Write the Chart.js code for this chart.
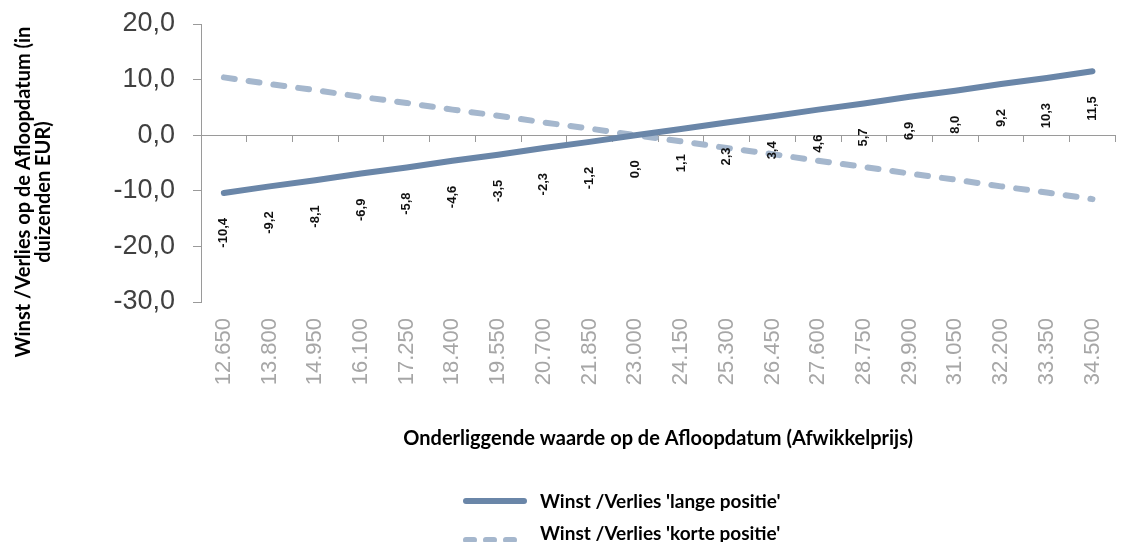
<!DOCTYPE html>
<html>
<head>
<meta charset="utf-8">
<title>Winst / Verlies</title>
<script src="https://cdn.jsdelivr.net/npm/chart.js@4.4.0/dist/chart.umd.min.js"></script>
<style>
html, body { margin: 0; padding: 0; background: #fff; overflow: hidden; }
#wrap { width: 1135px; height: 542px; }
</style>
</head>
<body>
<div id="wrap"><canvas id="payoffChart"></canvas></div>
<script>
// afwikkelprijzen (x-as)
var prices = ['12.650', '13.800', '14.950', '16.100', '17.250', '18.400', '19.550', '20.700', '21.850', '23.000',
              '24.150', '25.300', '26.450', '27.600', '28.750', '29.900', '31.050', '32.200', '33.350', '34.500'];
// winst/verlies in duizenden EUR
var longPos  = [-10.4, -9.2, -8.1, -6.9, -5.8, -4.6, -3.5, -2.3, -1.2, 0.0, 1.1, 2.3, 3.4, 4.6, 5.7, 6.9, 8.0, 9.2, 10.3, 11.5];
var shortPos = [10.4, 9.2, 8.1, 6.9, 5.8, 4.6, 3.5, 2.3, 1.2, 0.0, -1.1, -2.3, -3.4, -4.6, -5.7, -6.9, -8.0, -9.2, -10.3, -11.5];
var seriesNames = ["Winst /Verlies 'lange positie'", "Winst /Verlies 'korte positie'"];
var yTicks = [-30, -20, -10, 0, 10, 20];
var yTitle = ['Winst /Verlies op de Afloopdatum (in', 'duizenden EUR)'];
var xTitle = 'Onderliggende waarde op de Afloopdatum (Afwikkelprijs)';

var titleFont = 'bold 20px Lato, "Open Sans", sans-serif';
var legendFont = 'bold 19px Lato, "Open Sans", sans-serif';

function nl(v){
	return v.toFixed(1).replace('.', ',');
}

// waarden van de lange positie, verticaal onder de lijn
var valueLabels = {
	id: 'valueLabels',
	afterDatasetsDraw: function(chart){
		var ctx = chart.ctx;
		var meta = chart.getDatasetMeta(0);
		ctx.save();
		ctx.font = 'bold 13px "Liberation Sans", Arial, sans-serif';
		ctx.fillStyle = '#111';
		ctx.textAlign = 'right';
		ctx.textBaseline = 'middle';
		meta.data.forEach(function(pt, i){
			ctx.save();
			ctx.translate(pt.x, pt.y + 25);
			ctx.rotate(-Math.PI / 2);
			ctx.fillText(nl(longPos[i]), 0, 0);
			ctx.restore();
		});
		ctx.restore();
	}
};

// as-titels en legenda
var extras = {
	id: 'extras',
	afterDraw: function(chart){
		var ctx = chart.ctx;
		var area = chart.chartArea;
		ctx.save();
		ctx.font = titleFont;
		ctx.fillStyle = '#000';
		ctx.textAlign = 'center';
		ctx.textBaseline = 'middle';

		// y-as titel
		yTitle.forEach(function(line, i){
			ctx.save();
			ctx.translate(24 + i * 20, 192);
			ctx.rotate(-Math.PI / 2);
			ctx.fillText(line, 0, 0);
			ctx.restore();
		});

		// x-as titel
		ctx.fillText(xTitle, (area.left + area.right) / 2, 439);

		// legenda
		ctx.font = legendFont;
		var rowsText = [502, 534];
		var rowsLine = [501, 540];
		chart.data.datasets.forEach(function(ds, i){
			ctx.save();
			ctx.strokeStyle = ds.borderColor;
			ctx.lineWidth = 6;
			ctx.lineCap = 'round';
			ctx.setLineDash(ds.borderDash && ds.borderDash.length ? [8, 12] : []);
			ctx.beginPath();
			ctx.moveTo(466, rowsLine[i]);
			ctx.lineTo(524, rowsLine[i]);
			ctx.stroke();
			ctx.restore();
			ctx.textAlign = 'left';
			ctx.fillText(ds.label, 540, rowsText[i]);
		});
		ctx.restore();
	}
};

var chart = new Chart(document.getElementById('payoffChart'), {
	type: 'line',
	data: {
		labels: prices,
		datasets: [
			{
				label: seriesNames[0],
				data: longPos,
				borderColor: '#6a86a8',
				borderWidth: 6,
				borderCapStyle: 'round',
				pointRadius: 0,
				tension: 0
			},
			{
				label: seriesNames[1],
				data: shortPos,
				borderColor: '#a5b7cd',
				borderWidth: 6,
				borderDash: [11, 14],
				borderCapStyle: 'round',
				pointRadius: 0,
				tension: 0
			}
		]
	},
	options: {
		responsive: true,
		maintainAspectRatio: false,
		animation: false,
		layout: { padding: { top: 24, right: 6, bottom: 140, left: 0 } },
		plugins: {
			legend: { display: false },
			tooltip: { enabled: false }
		},
		scales: {
			x: {
				type: 'category',
				position: 'bottom',
				offset: true,
				grid: { display: false, drawTicks: false },
				border: { display: false },
				ticks: {
					minRotation: 90,
					maxRotation: 90,
					autoSkip: false,
					padding: 16,
					color: '#a6a6a6',
					font: { family: '"Liberation Sans", Arial, sans-serif', size: 22 }
				},
				afterFit: function(scale){ scale.height = 100; }
			},
			// nullijn met streepjes tussen de categorieen
			x0: {
				type: 'category',
				axis: 'x',
				position: { y: 0 },
				offset: true,
				ticks: { display: false },
				grid: { drawOnChartArea: false, drawTicks: true, tickLength: 6, offset: true, color: '#9a9a9a' },
				border: { display: true, color: '#9a9a9a', width: 1 }
			},
			y: {
				min: -30,
				max: 20,
				afterBuildTicks: function(scale){
					scale.ticks = yTicks.map(function(v){ return { value: v }; });
				},
				grid: { drawOnChartArea: false, drawTicks: true, tickLength: 8, color: '#9a9a9a' },
				border: { display: true, color: '#9a9a9a', width: 1 },
				ticks: {
					padding: 18,
					color: '#404040',
					font: { family: '"Liberation Sans", Arial, sans-serif', size: 27 },
					callback: function(v){ return nl(v); }
				},
				afterFit: function(scale){
					scale.width = 201;
					// geen extra ruimte boven/onder voor de labels
					scale.paddingTop = 0;
					scale.paddingBottom = 0;
				}
			}
		}
	},
	plugins: [valueLabels, extras]
});
</script>
</body>
</html>
